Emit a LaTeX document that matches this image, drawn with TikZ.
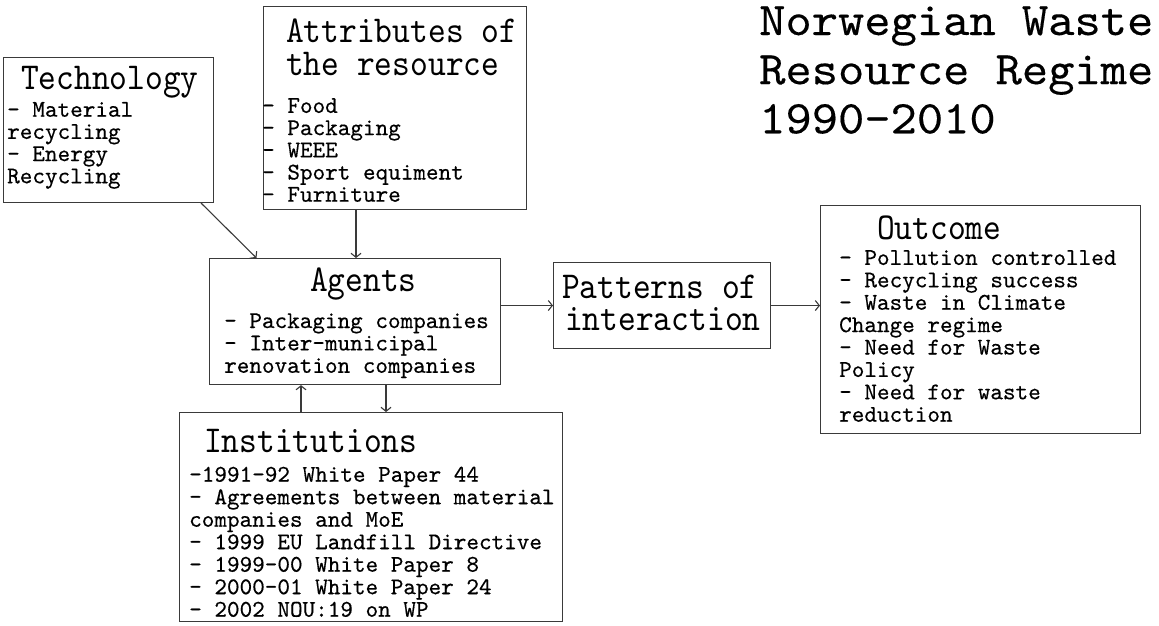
\documentclass[tikz,border=0pt]{standalone}
\usepackage{fontspec}
\usetikzlibrary{arrows.meta}
\newfontfamily\bodyfont{lmmono10-regular.otf}[FakeBold=0.4]
\newfontfamily\headfont{lmmono10-regular.otf}[FakeStretch=0.89]
\newfontfamily\titlefont{lmmono10-regular.otf}[FakeStretch=1.065,FakeBold=0.3]
\definecolor{edge}{HTML}{3A3A3A}
% multi-line text nodes are placed by the baseline of their last line
\tikzset{
  box/.style={draw=edge, line width=1.1pt, inner sep=0pt, anchor=north west},
  bodytext/.style={anchor=base west, inner sep=0pt, align=left,
    font=\bodyfont\fontsize{24}{22.4}\selectfont},
  headtext/.style={anchor=base west, inner sep=0pt, align=left,
    font=\headfont\fontsize{38}{32}\selectfont},
  titletext/.style={anchor=base west, inner sep=0pt, align=left,
    font=\titlefont\fontsize{47}{49.15}\selectfont},
  arr/.style={draw=edge, line width=1.1pt, -{Straight Barb[length=4pt,width=10pt]}}
}
\begin{document}
\begin{tikzpicture}[x=1pt,y=-1pt]
\useasboundingbox[fill=white] (0,0) rectangle (1159,626);

% frames
\node[box, minimum width=210pt, minimum height=145pt] (tech) at (3,57) {};
\node[box, minimum width=263pt, minimum height=203pt] (attr) at (263,6) {};
\node[box, minimum width=291pt, minimum height=126pt] (agents) at (209,258) {};
\node[box, minimum width=217pt, minimum height=86pt] (patterns) at (553,262) {};
\node[box, minimum width=320pt, minimum height=228pt] (outcome) at (820,205) {};
\node[box, minimum width=383pt, minimum height=209pt] (inst) at (179,412) {};

% title
\node[titletext] (title) at (759,133.3) {Norwegian Waste\\Resource Regime\\1990-2010};

% technology
\node[headtext] (techhead) at (21,89) {Technology};
\node[bodytext, font=\bodyfont\fontsize{24}{22.2}\selectfont] (techbody) at (7,183.3)
  {- Material\\recycling\\- Energy\\Recycling};

% attributes of the resource
\node[headtext] (attrheadA) at (286,43) {Attributes of};
\node[headtext] (attrheadB) at (286,75) {the resource};
\node[bodytext, font=\bodyfont\fontsize{24}{22.2}\selectfont] (attrbody) at (262,201.7)
  {- Food\\- Packaging\\- WEEE\\- Sport equiment\\- Furniture};

% agents
\node[headtext] (agentshead) at (310,291.7) {Agents};
\node[bodytext] (agentsbody) at (224,372.8)
  {- Packaging companies\\- Inter-municipal\\renovation companies};

% patterns of interaction
\node[headtext] (patternsheadA) at (562,298) {Patterns of};
\node[headtext] (patternsheadB) at (565,330) {interaction};

% outcome
\node[headtext] (outcomehead) at (877,239) {Outcome};
\node[bodytext] (outcomebody) at (839,421.7)
  {- Pollution controlled\\- Recycling success\\- Waste in Climate\\Change regime\\- Need for Waste\\Policy\\- Need for waste\\reduction};

% institutions
\node[headtext] (insthead) at (204,452.7) {Institutions};
\node[bodytext, font=\bodyfont\fontsize{24}{22.5}\selectfont] (instbody) at (189,616.7)
  {-1991-92 White Paper 44\\- Agreements between material\\companies and MoE\\- 1999 EU Landfill Directive\\- 1999-00 White Paper 8\\- 2000-01 White Paper 24\\- 2002 NOU:19 on WP};

% connectors
\coordinate (techout) at ([xshift=-13pt]tech.south east);
\coordinate (agentsinA) at ([xshift=47.5pt]agents.north west);
\draw[arr] (techout) -- (agentsinA);
\coordinate (attrout) at ([xshift=93pt]attr.south west);
\draw[arr] (attrout) -- (attrout |- agents.north);
\draw[arr] (agents.east |- patterns.west) -- (patterns.west);
\draw[arr] (patterns.east) -- (patterns.east -| outcome.west);
\coordinate (instout) at ([xshift=122pt]inst.north west);
\draw[arr] (instout) -- (instout |- agents.south);
\coordinate (agentsout) at ([xshift=177pt]agents.south west);
\draw[arr] (agentsout) -- (agentsout |- inst.north);
\end{tikzpicture}
\end{document}
